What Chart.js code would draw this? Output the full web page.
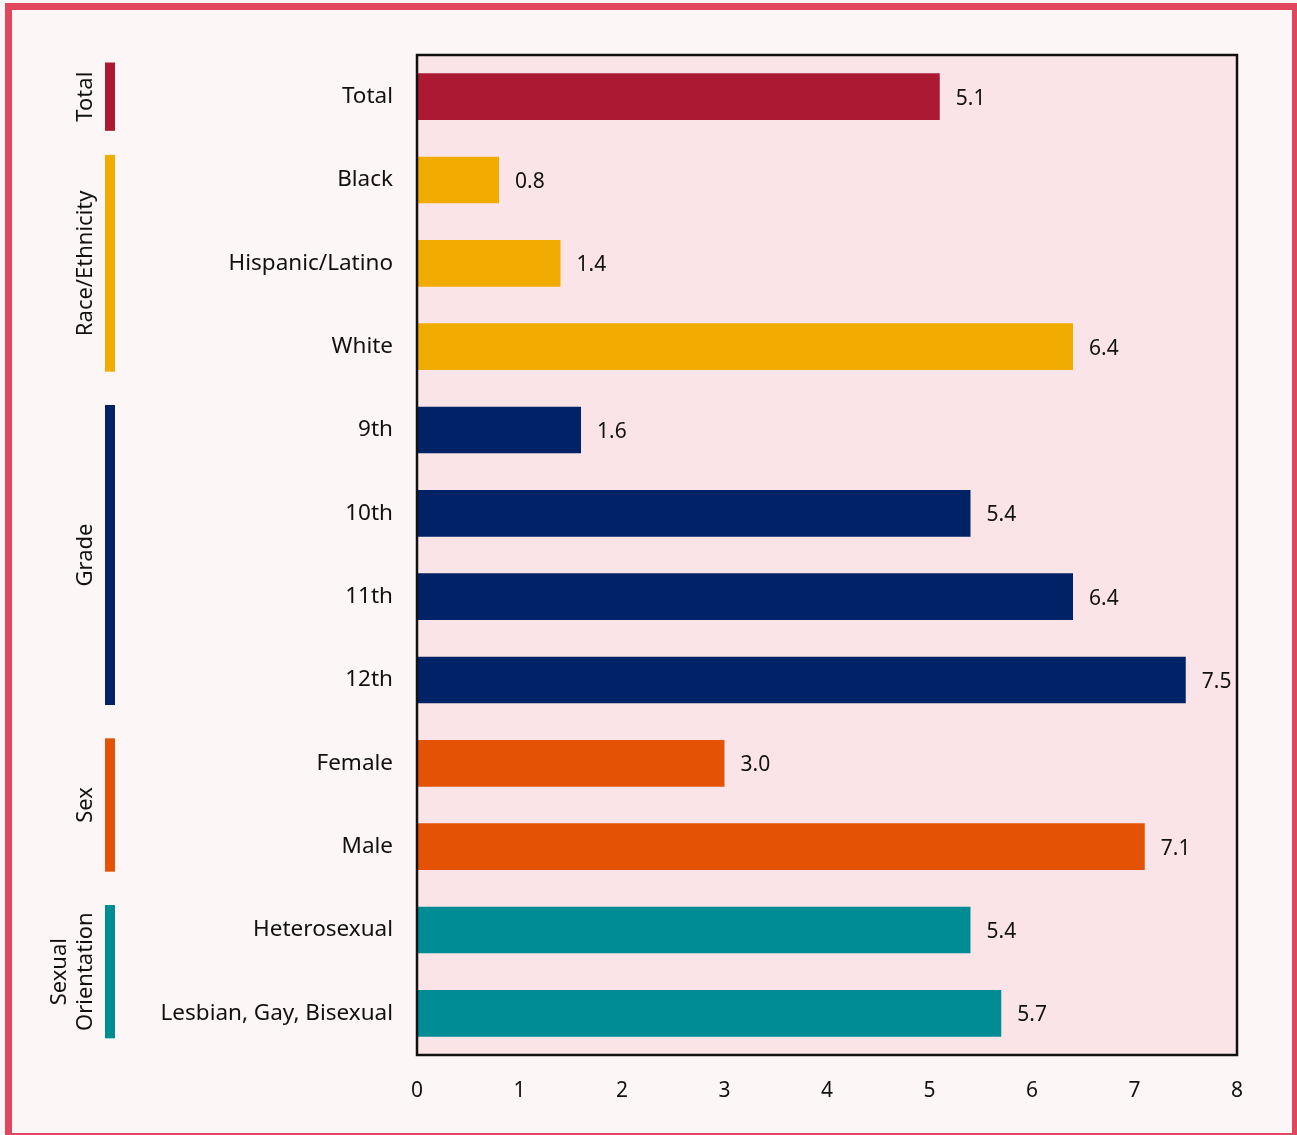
<!DOCTYPE html>
<html><head><meta charset="utf-8">
<script src="https://cdn.jsdelivr.net/npm/chart.js@4"></script>
<style>
html,body{margin:0;padding:0;background:#fcf6f6;overflow:hidden;}
#frame{position:absolute;left:5px;top:3px;width:1280px;height:1123px;border:7px solid #e0475f;}
#wrap{position:absolute;left:0;top:0;width:1297px;height:1135px;}
</style></head>
<body>
<div id="frame"></div>
<div id="wrap"><canvas id="c" width="1297" height="1135"></canvas></div>
<script>
const categories = ["Total","Black","Hispanic/Latino","White","9th","10th","11th","12th","Female","Male","Heterosexual","Lesbian, Gay, Bisexual"];
const values = [5.1,0.8,1.4,6.4,1.6,5.4,6.4,7.5,3.0,7.1,5.4,5.7];
const groupNames = [["Total"],["Race/Ethnicity"],["Grade"],["Sex"],["Sexual","Orientation"]];
const groupStart = [0,1,4,8,10];
const groupEnd = [0,3,7,9,11];
const groupColors = ["#ab1a32","#f2ab00","#002266","#e35205","#008c95"];
const xTicks = [0,1,2,3,4,5,6,7,8];

const barColors = categories.map((_,i)=>{
  let g=0; for(let k=0;k<groupStart.length;k++){ if(i>=groupStart[k]) g=k; } return groupColors[g];
});
const FONT = "'Noto Sans', sans-serif";

const plotDeco = {
  id:'plotDeco',
  beforeDatasetsDraw(chart){
    const {ctx, chartArea:a} = chart;
    ctx.save(); ctx.fillStyle='#fbe4e7';
    ctx.fillRect(a.left,a.top,a.right-a.left,a.bottom-a.top); ctx.restore();
  },
  afterDatasetsDraw(chart){
    const {ctx, chartArea:a, scales} = chart;
    ctx.save();
    ctx.strokeStyle='#111'; ctx.lineWidth=2.5;
    ctx.strokeRect(a.left,a.top,a.right-a.left,a.bottom-a.top);
    ctx.fillStyle='#111'; ctx.font="21px "+FONT; ctx.textBaseline='middle'; ctx.textAlign='left';
    const meta = chart.getDatasetMeta(0);
    meta.data.forEach((bar,i)=>{ ctx.fillText(values[i].toFixed(1), bar.x+16, bar.y+2); });
    const y = scales.y;
    const band = (y.getPixelForValue(1)-y.getPixelForValue(0));
    groupNames.forEach((names,g)=>{
      const pad = g===0 ? band*0.41 : band*0.3;
      const top = y.getPixelForValue(groupStart[g]) - pad;
      const bot = y.getPixelForValue(groupEnd[g]) + pad;
      ctx.fillStyle = groupColors[g];
      ctx.fillRect(105, top, 10, bot-top);
      const cy=(top+bot)/2;
      ctx.save(); ctx.translate(0,cy); ctx.rotate(-Math.PI/2);
      ctx.fillStyle='#111'; ctx.font="22px "+FONT; ctx.textAlign='center'; ctx.textBaseline='middle';
      if(names.length===1){ ctx.fillText(names[0],0,86); }
      else { ctx.fillText(names[0],0,60); ctx.fillText(names[1],0,86); }
      ctx.restore();
    });
    ctx.restore();
  }
};

new Chart(document.getElementById('c'),{
  type:'bar',
  data:{labels:categories,datasets:[{data:values,backgroundColor:barColors,barPercentage:0.56,categoryPercentage:1.0}]},
  options:{
    indexAxis:'y', responsive:false, animation:false,
    layout:{padding:{top:55,right:60,left:0,bottom:0}},
    plugins:{legend:{display:false},tooltip:{enabled:false}},
    scales:{
      x:{min:0,max:8,
        afterBuildTicks(s){ s.ticks = xTicks.map(v=>({value:v})); },
        afterFit(s){ s.height = 1135-1055; },
        grid:{display:false,drawTicks:false}, border:{display:false},
        ticks:{color:'#111',font:{size:21,family:FONT},padding:23}},
      y:{afterFit(s){ s.width = 417; },
        grid:{display:false,drawTicks:false}, border:{display:false},
        ticks:{color:'#111',font:{size:22.5,family:FONT},padding:24,crossAlign:'near'}}
    }
  },
  plugins:[plotDeco]
});
</script>
</body></html>
